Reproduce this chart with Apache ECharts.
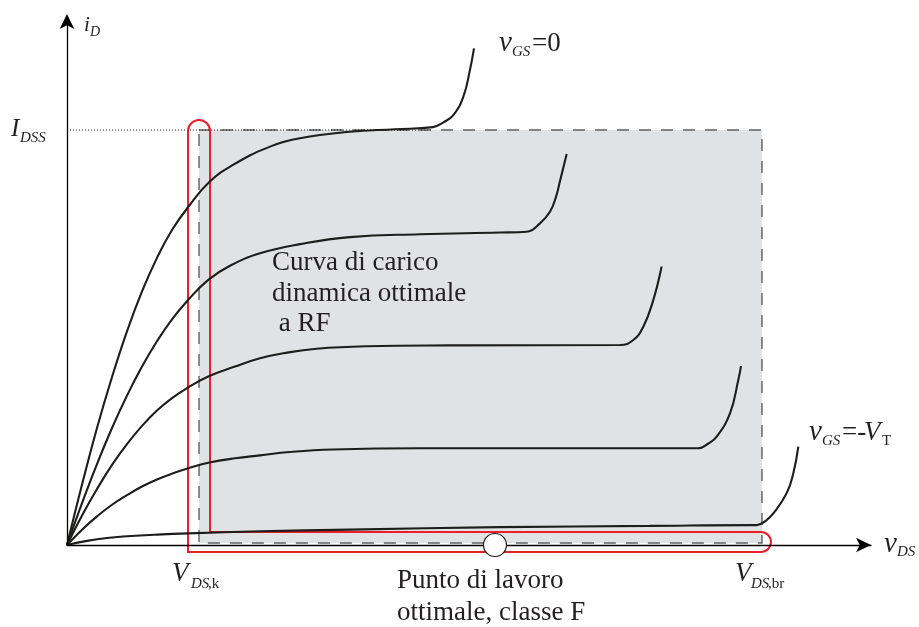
<!DOCTYPE html>
<html>
<head>
<meta charset="utf-8">
<script src="https://cdn.jsdelivr.net/npm/echarts@6/dist/echarts.min.js"></script>
<style>
  html, body { margin: 0; padding: 0; background: #ffffff; }
  #chart { width: 919px; height: 627px; }
</style>
</head>
<body>
<div id="chart"></div>
<script>
// Output characteristics i_D(v_DS) of a depletion FET, currents normalised to I_DSS.
// Each family member: ohmic rise, saturation plateau, breakdown knee.
const curveVgs0 = [
  [0, 0], [0.187, 0.146], [0.373, 0.282], [0.560, 0.405], [0.746, 0.515],
  [0.933, 0.611], [1.119, 0.692], [1.306, 0.759], [1.509, 0.815], [1.770, 0.875],
  [2.065, 0.916], [2.488, 0.957], [2.898, 0.980], [3.520, 0.996], [4.080, 1.002],
  [4.552, 1.007], [4.677, 1.018], [4.805, 1.036], [4.929, 1.080], [5.012, 1.145],
  [5.062, 1.197]
];
const curveVgs1 = [
  [0, 0], [0.187, 0.101], [0.373, 0.195], [0.560, 0.282], [0.746, 0.360],
  [0.933, 0.430], [1.119, 0.491], [1.306, 0.544], [1.509, 0.591], [1.757, 0.639],
  [2.027, 0.673], [2.400, 0.703], [2.898, 0.725], [3.520, 0.742], [4.391, 0.749],
  [5.386, 0.753], [5.718, 0.755], [5.883, 0.775], [6.007, 0.803], [6.082, 0.839],
  [6.132, 0.877], [6.215, 0.942]
];
const curveVgs2 = [
  [0, 0], [0.187, 0.071], [0.373, 0.135], [0.560, 0.193], [0.746, 0.243],
  [0.933, 0.287], [1.119, 0.324], [1.306, 0.354], [1.509, 0.380], [1.757, 0.406],
  [2.090, 0.430], [2.400, 0.450], [2.690, 0.462], [3.106, 0.473], [3.728, 0.479],
  [4.764, 0.481], [6.878, 0.482], [7.044, 0.494], [7.168, 0.526], [7.292, 0.590],
  [7.396, 0.671]
];
const curveVgs3 = [
  [0, 0], [0.187, 0.037], [0.373, 0.069], [0.560, 0.097], [0.746, 0.120],
  [0.933, 0.141], [1.119, 0.158], [1.306, 0.172], [1.509, 0.185], [1.757, 0.198],
  [2.090, 0.209], [2.400, 0.216], [2.773, 0.224], [3.308, 0.230], [4.391, 0.233],
  [5.386, 0.233], [7.852, 0.233], [7.973, 0.244], [8.081, 0.261], [8.246, 0.317],
  [8.350, 0.398], [8.383, 0.431]
];
const curveVgsPinch = [
  [0, 0], [0.249, 0.010], [0.498, 0.017], [0.746, 0.021], [1.119, 0.025],
  [1.509, 0.028], [2.400, 0.033], [3.520, 0.037], [5.386, 0.043], [7.251, 0.046],
  [8.520, 0.048], [8.578, 0.048], [8.694, 0.059], [8.785, 0.076], [8.951, 0.125],
  [9.034, 0.173], [9.096, 0.237]
];

// Key operating quantities
const idss = 1.0;          // I_DSS
const vdsKnee = 1.642;     // V_DS,k
const vdsBreak = 8.644;    // V_DS,br
const operatingPoint = [[5.323, 0]];   // optimum class-F bias point
const idssDotEnd = 4.552;  // plateau of the v_GS = 0 curve reaches I_DSS here

const axisMaxX = 10;
const axisMaxY = 1.27;

const ink = '#231f20';
const serif = '"Liberation Serif", "Times New Roman", serif';

const chart = echarts.init(document.getElementById('chart'), null, { renderer: 'canvas' });

function curveSeries(data) {
  return {
    type: 'line',
    data: data,
    smooth: 0.45,
    showSymbol: false,
    symbol: 'none',
    silent: true,
    z: 6,
    lineStyle: { color: '#1d1d1b', width: 2.1 }
  };
}

const option = {
  animation: false,
  backgroundColor: '#ffffff',
  grid: { left: 67, right: 48, top: 18, bottom: 82, containLabel: false },
  xAxis: {
    type: 'value', min: 0, max: axisMaxX, z: 10,
    axisLine: { show: true, onZero: true, symbol: ['none', 'arrow'], symbolSize: [11, 15],
                lineStyle: { color: '#000000', width: 1.3 } },
    axisTick: { show: false }, axisLabel: { show: false }, splitLine: { show: false }
  },
  yAxis: {
    type: 'value', min: 0, max: axisMaxY, z: 10,
    axisLine: { show: true, onZero: true, symbol: ['none', 'arrow'], symbolSize: [11, 15],
                symbolOffset: [0, 4],
                lineStyle: { color: '#000000', width: 1.3 } },
    axisTick: { show: false }, axisLabel: { show: false }, splitLine: { show: false }
  },
  series: [
    // Safe operating region bounded by V_DS,k, V_DS,br and I_DSS
    {
      type: 'custom', silent: true, z: 1,
      data: [[vdsKnee, 0, vdsBreak, idss]],
      renderItem: function (params, api) {
        const p0 = api.coord([api.value(0), api.value(3)]);
        const p1 = api.coord([api.value(2), api.value(1)]);
        return {
          type: 'rect',
          shape: { x: p0[0], y: p0[1], width: p1[0] - p0[0], height: p1[1] - p0[1] - 2 },
          style: { fill: '#e1e2e4', stroke: '#606060', lineWidth: 1.4, lineDash: [12, 10] }
        };
      }
    },
    // I_DSS reference level
    {
      type: 'line', silent: true, z: 2, symbol: 'none',
      data: [[0, idss], [idssDotEnd, idss]],
      lineStyle: { color: '#222222', width: 1, type: [1, 2] }
    },
    // Optimum RF dynamic load line (L-shaped contour)
    {
      type: 'custom', silent: true, z: 4,
      data: [[vdsKnee, idss, vdsBreak, 0]],
      renderItem: function (params, api) {
        const top = api.coord([api.value(0), api.value(1)]);
        const end = api.coord([api.value(2), api.value(3)]);
        const r1 = 11, r2 = 10, lift = 3;
        const xl = top[0] - r1, xr = top[0] + r1, yc = top[1] + 1;
        const yt = end[1] - r2 - lift, yb = end[1] + r2 - lift;
        const cx = end[0] - 1;
        const d = 'M' + xl + ',' + yc +
          ' A' + r1 + ',' + r1 + ' 0 0 1 ' + xr + ',' + yc +
          ' L' + xr + ',' + yt +
          ' L' + cx + ',' + yt +
          ' A' + r2 + ',' + r2 + ' 0 0 1 ' + cx + ',' + yb +
          ' L' + xl + ',' + yb + ' Z';
        return {
          type: 'path',
          shape: { pathData: d },
          style: { fill: 'none', stroke: '#e8202a', lineWidth: 2 }
        };
      }
    },
    curveSeries(curveVgs0),
    curveSeries(curveVgs1),
    curveSeries(curveVgs2),
    curveSeries(curveVgs3),
    curveSeries(curveVgsPinch),
    {
      type: 'scatter', silent: true, z: 12,
      data: operatingPoint,
      symbol: 'circle', symbolSize: 23,
      itemStyle: { color: '#ffffff', borderColor: '#1d1d1b', borderWidth: 1.2, opacity: 1 }
    }
  ]
};

chart.setOption(option);

// Text pieces: [left x, baseline y, text, font size, italic]
function piece(x, baseline, text, size, italic) {
  return {
    type: 'text', silent: true, z: 20,
    x: x, y: baseline - 0.33 * size,
    style: {
      text: text,
      font: (italic ? 'italic ' : '') + size + 'px ' + serif,
      fill: ink,
      align: 'left', verticalAlign: 'middle',
      textAlign: 'left', textVerticalAlign: 'middle'
    }
  };
}

const px = function (v) { return chart.convertToPixel({ gridIndex: 0 }, v); };
const kPt = px([vdsKnee, 0]);
const brPt = px([vdsBreak, 0]);
const idssPt = px([0, idss]);
const qPt = px(operatingPoint[0]);

const big = 27, vSize = 29, sub = 15;
const texts = [
  // axis names
  piece(84, 32, 'i', 21, true), piece(90, 37, 'D', 14, true),
  piece(884, 554, 'v', vSize, true), piece(897, 557, 'DS', sub, true),
  // I_DSS
  piece(idssPt[0] - 56, idssPt[1] + 8, 'I', 25, true),
  piece(idssPt[0] - 47, idssPt[1] + 13, 'DSS', sub, true),
  // gate-voltage labels
  piece(499, 53, 'v', vSize, true), piece(512, 57, 'GS', sub, true), piece(532, 53, '=0', big, false),
  piece(809, 442, 'v', vSize, true), piece(822, 446, 'GS', sub, true), piece(842, 442, '=-', big, false),
  piece(864, 442, 'V', big, true), piece(882, 446, 'T', sub, false),
  // V_DS,k and V_DS,br
  piece(kPt[0] - 27, kPt[1] + 38, 'V', big, true),
  piece(kPt[0] - 8, kPt[1] + 44, 'DS', sub, true),
  piece(kPt[0] + 9, kPt[1] + 44, ',k', sub, false),
  piece(brPt[0] - 27, brPt[1] + 38, 'V', big, true),
  piece(brPt[0] - 11, brPt[1] + 44, 'DS', sub, true),
  piece(brPt[0] + 6, brPt[1] + 44, ',br', sub, false),
  // annotations
  piece(272, 272, 'Curva di carico', big, false),
  piece(272, 303, 'dinamica ottimale', big, false),
  piece(272, 333, ' a RF', big, false),
  piece(qPt[0] - 98, qPt[1] + 45, 'Punto di lavoro', big, false),
  piece(qPt[0] - 98, qPt[1] + 77, 'ottimale, classe F', big, false)
];

chart.setOption({ graphic: { elements: texts } });
</script>
</body>
</html>
